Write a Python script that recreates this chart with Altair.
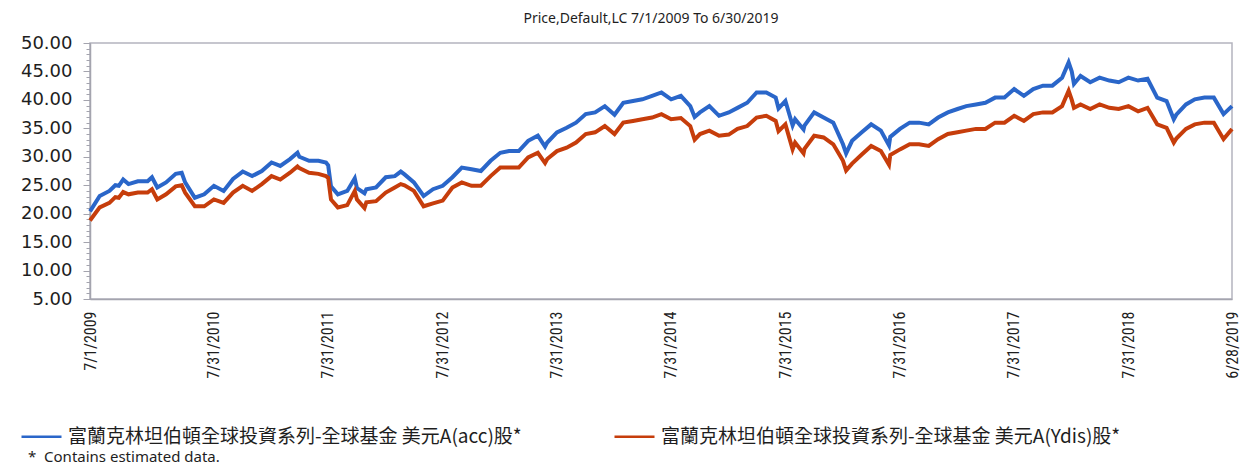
import altair as alt
import pandas as pd

# ---- data ----
dates = [
    "2009-07-01", "2009-08-01", "2009-09-01", "2009-09-20", "2009-10-01", "2009-10-15",
    "2009-11-01", "2009-12-01", "2010-01-01", "2010-01-15", "2010-02-01", "2010-03-01",
    "2010-04-01", "2010-04-20", "2010-05-01", "2010-06-01", "2010-07-01", "2010-08-01",
    "2010-09-01", "2010-10-01", "2010-11-01", "2010-12-01", "2011-01-01", "2011-02-01",
    "2011-03-01", "2011-04-01", "2011-04-25", "2011-05-01", "2011-06-01", "2011-07-01",
    "2011-07-25", "2011-08-01", "2011-08-10", "2011-09-01", "2011-10-01", "2011-10-25",
    "2011-11-01", "2011-11-25", "2011-12-01", "2012-01-01", "2012-02-01", "2012-03-01",
    "2012-03-20", "2012-04-01", "2012-05-01", "2012-06-01", "2012-07-01", "2012-08-01",
    "2012-09-01", "2012-10-01", "2012-11-01", "2012-12-01", "2013-01-01", "2013-02-01",
    "2013-03-01", "2013-04-01", "2013-05-01", "2013-06-01", "2013-06-24", "2013-07-01",
    "2013-08-01", "2013-09-01", "2013-10-01", "2013-11-01", "2013-12-01", "2014-01-01",
    "2014-02-01", "2014-03-01", "2014-04-01", "2014-05-01", "2014-06-01", "2014-07-01",
    "2014-08-01", "2014-09-01", "2014-10-01", "2014-10-15", "2014-11-01", "2014-12-01",
    "2015-01-01", "2015-02-01", "2015-03-01", "2015-04-01", "2015-05-01", "2015-06-01",
    "2015-07-01", "2015-07-10", "2015-08-01", "2015-08-24", "2015-09-01", "2015-09-28",
    "2015-10-01", "2015-11-01", "2015-12-01", "2016-01-01", "2016-02-01", "2016-02-11",
    "2016-03-01", "2016-04-01", "2016-05-01", "2016-06-01", "2016-06-27", "2016-07-01",
    "2016-08-01", "2016-09-01", "2016-10-01", "2016-11-01", "2016-12-01", "2017-01-01",
    "2017-02-01", "2017-03-01", "2017-04-01", "2017-05-01", "2017-06-01", "2017-07-01",
    "2017-08-01", "2017-09-01", "2017-10-01", "2017-11-01", "2017-12-01", "2018-01-01",
    "2018-01-22", "2018-02-01", "2018-02-08", "2018-03-01", "2018-04-01", "2018-05-01",
    "2018-06-01", "2018-07-01", "2018-08-01", "2018-09-01", "2018-10-01", "2018-11-01",
    "2018-12-01", "2018-12-24", "2019-01-01", "2019-02-01", "2019-03-01", "2019-04-01",
    "2019-05-01", "2019-06-01", "2019-06-28",
]

acc = [
    20.4, 23.1, 24.0, 25.0, 24.9, 26.0,
    25.2, 25.7, 25.7, 26.4, 24.6, 25.5,
    27.0, 27.2, 25.5, 22.8, 23.4, 24.9,
    24.0, 26.1, 27.4, 26.6, 27.5, 29.0,
    28.4, 29.6, 30.7, 30.0, 29.3, 29.3,
    29.0, 28.5, 24.8, 23.4, 24.0, 26.2,
    24.5, 23.6, 24.3, 24.6, 26.4, 26.6,
    27.4, 26.9, 25.5, 23.1, 24.3, 24.9,
    26.4, 28.1, 27.8, 27.5, 29.3, 30.7,
    31.0, 31.0, 32.8, 33.7, 31.8, 32.5,
    34.3, 35.1, 36.0, 37.5, 37.8, 38.9,
    37.4, 39.5, 39.8, 40.1, 40.7, 41.3,
    40.1, 40.7, 38.9, 37.0, 37.8, 38.9,
    37.2, 37.8, 38.6, 39.5, 41.3, 41.3,
    40.4, 38.5, 39.8, 35.5, 36.6, 34.8,
    35.5, 37.8, 36.9, 36.0, 32.2, 30.6,
    32.8, 34.3, 35.7, 34.6, 32.0, 33.5,
    34.9, 36.0, 36.0, 35.7, 36.9, 37.8,
    38.4, 38.9, 39.2, 39.5, 40.4, 40.4,
    41.9, 40.7, 41.9, 42.5, 42.5, 43.9,
    46.6, 45.0, 42.8, 44.2, 43.1, 43.9,
    43.4, 43.1, 43.9, 43.4, 43.7, 40.4,
    39.8, 36.6, 37.4, 39.2, 40.1, 40.4,
    40.4, 37.5, 38.9,
]

ydis = [
    18.8, 21.1, 21.9, 22.9, 22.8, 23.8,
    23.4, 23.7, 23.7, 24.3, 22.5, 23.4,
    24.8, 25.0, 23.7, 21.3, 21.3, 22.5,
    21.9, 23.7, 24.9, 24.0, 25.2, 26.6,
    26.0, 27.2, 28.3, 28.0, 27.2, 27.0,
    26.6, 26.3, 22.5, 21.1, 21.5, 24.0,
    22.5, 21.0, 22.0, 22.2, 23.7, 24.6,
    25.2, 25.0, 24.0, 21.3, 21.8, 22.3,
    24.6, 25.5, 24.9, 24.9, 26.6, 28.1,
    28.1, 28.1, 29.9, 30.7, 28.9, 29.6,
    31.0, 31.6, 32.5, 34.0, 34.3, 35.4,
    34.0, 36.0, 36.3, 36.6, 36.9, 37.5,
    36.6, 36.8, 35.4, 33.0, 34.0, 34.6,
    33.7, 33.9, 34.9, 35.4, 36.9, 37.2,
    36.3, 34.5, 35.7, 31.3, 32.5, 30.6,
    31.4, 33.7, 33.4, 32.2, 29.3, 27.6,
    28.8, 30.4, 31.9, 31.0, 28.6, 30.3,
    31.3, 32.2, 32.2, 31.9, 33.1, 34.0,
    34.3, 34.6, 34.9, 34.9, 36.0, 36.0,
    37.2, 36.3, 37.5, 37.8, 37.8, 38.9,
    41.6, 40.0, 38.6, 39.2, 38.4, 39.2,
    38.6, 38.4, 38.9, 38.0, 38.6, 35.7,
    35.1, 32.5, 33.2, 34.9, 35.7, 36.0,
    36.0, 33.1, 34.9,
]

series_names = [
    "富蘭克林坦伯頓全球投資系列-全球基金 美元A(acc)股*",
    "富蘭克林坦伯頓全球投資系列-全球基金 美元A(Ydis)股*",
]
series_colors = ["#2a66c9", "#c63d0b"]

x_tick_dates = [
    (2009, 7, 1), (2010, 7, 31), (2011, 7, 31), (2012, 7, 31), (2013, 7, 31),
    (2014, 7, 31), (2015, 7, 31), (2016, 7, 31), (2017, 7, 31), (2018, 7, 31),
    (2019, 6, 28),
]
y_ticks = [5, 10, 15, 20, 25, 30, 35, 40, 45, 50]
y_minor_ticks = list(range(5, 51))

title_text = "Price,Default,LC 7/1/2009 To 6/30/2019"
footnote_text = "*\u00a0\u00a0Contains estimated data."

# ---- build table ----
rows = []
for d, a, r in zip(dates, acc, ydis):
    rows.append({"date": d + "T00:00:00", "series": series_names[0], "price": a})
    rows.append({"date": d + "T00:00:00", "series": series_names[1], "price": r})
df = pd.DataFrame(rows)

def dt(t):
    return alt.DateTime(year=t[0], month=t[1], date=t[2])

x_scale = alt.Scale(domain=[dt(x_tick_dates[0]), dt(x_tick_dates[-1])], nice=False)
y_scale = alt.Scale(domain=[5, 50], nice=False, zero=False)

axis_gray = "#a4a4ae"
text_col = "#1e1e1e"

x_axis = alt.Axis(
    values=[dt(t) for t in x_tick_dates], format="%-m/%-d/%Y", labelAngle=270,
    labelFont="Liberation Sans Narrow, Roboto Condensed, Liberation Sans", labelFontSize=16,
    labelColor=text_col, ticks=False, labelPadding=12, domainColor=axis_gray, domainWidth=1.5,
    grid=False, title=None, labelFlush=False, labelOverlap=False,
)
y_axis = alt.Axis(
    values=y_ticks, format=".2f", labelFont="DejaVu Sans", labelFontSize=18,
    labelColor=text_col, tickSize=7, tickColor=axis_gray, domainColor=axis_gray,
    domainWidth=1.5, labelPadding=11, grid=False, title=None, orient="left",
)
y_minor_axis = alt.Axis(
    values=y_minor_ticks, labels=False, tickSize=4, tickColor=axis_gray,
    domain=False, grid=False, title=None, orient="left",
)

legend = alt.Legend(
    title=None, orient="none", legendX=-70, legendY=372, direction="horizontal",
    columns=2, symbolType="stroke", symbolSize=1600, symbolStrokeWidth=2.5,
    labelFont="Noto Sans CJK TC", labelFontSize=19, labelColor=text_col,
    labelLimit=800, columnPadding=87, labelOffset=5, padding=0,
)

lines = alt.Chart(df).mark_line(strokeWidth=4).encode(
    x=alt.X("date:T", scale=x_scale, axis=x_axis),
    y=alt.Y("price:Q", scale=y_scale, axis=y_axis),
    color=alt.Color("series:N", scale=alt.Scale(domain=series_names, range=series_colors),
                    legend=legend),
)

minor = alt.Chart(df).mark_point(opacity=0, size=1).encode(
    y=alt.Y("price:Q", scale=y_scale, axis=y_minor_axis),
)

foot = alt.Chart(pd.DataFrame({"t": [footnote_text]})).mark_text(
    align="left", baseline="middle", font="Noto Sans", fontSize=15, color=text_col,
).encode(x=alt.value(-62), y=alt.value(414), text="t:N")

chart = alt.layer(lines, minor, foot).resolve_axis(y="independent").properties(
    width=1142, height=256,
    title=alt.TitleParams(title_text, font="Noto Sans", fontSize=14, fontWeight="normal",
                          color=text_col, offset=8, anchor="middle", dx=-10),
    padding={"left": 12, "top": 4, "right": 0, "bottom": 0},
).configure_view(stroke="#b4b4be", strokeWidth=1.5)

chart.save("out.html", embed_options={"renderer": "svg", "actions": False})
